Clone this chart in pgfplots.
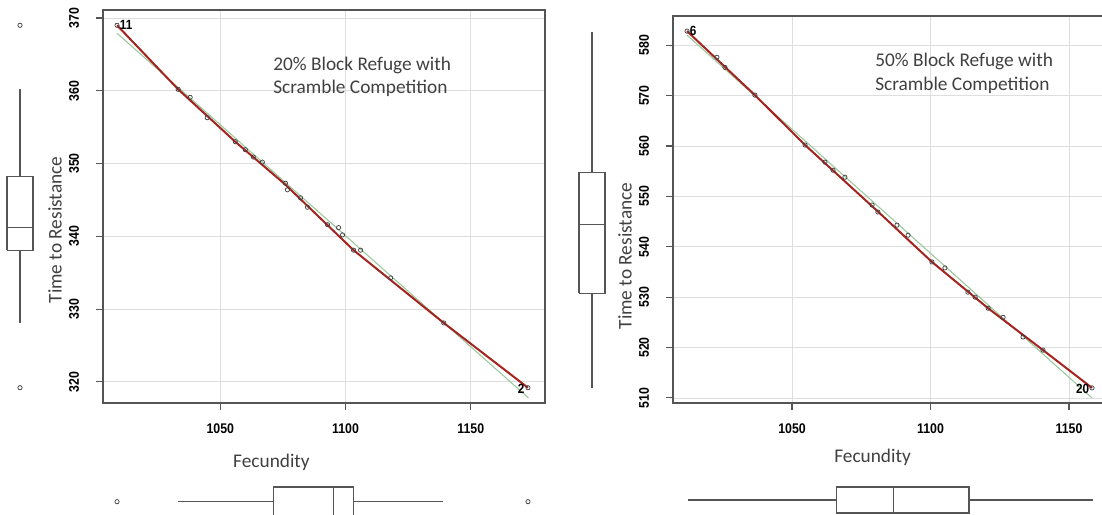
\documentclass[border=0pt]{standalone}
\usepackage{pgfplots}
\pgfplotsset{compat=1.18}
\usepgfplotslibrary{statistics}
\usepackage{fontspec}
\setmainfont{Carlito}
\newfontfamily\tickfont[FakeStretch=0.88]{Liberation Sans}

\definecolor{framec}{HTML}{555555}
\definecolor{gridc}{HTML}{DEDEDE}
\definecolor{fitred}{HTML}{A3231F}
\definecolor{fitgreen}{HTML}{9CC89C}
\definecolor{ptc}{HTML}{404040}

\pgfplotsset{
  scat/.style={
    scale only axis, anchor=south west,
    axis line style={framec, line width=1.1pt},
    grid=major, grid style={gridc, line width=0.6pt},
    tick align=outside, major tick length=5pt,
    tick style={framec, line width=0.8pt},
    xtick pos=bottom, ytick pos=left,
    xtick={1050,1100,1150},
    ticklabel style={font=\tickfont\bfseries\fontsize{10.5}{12}\selectfont},
    yticklabel style={rotate=90, anchor=south},
    xticklabel shift=7pt, yticklabel shift=9.5pt,
    /pgf/number format/assume math mode=true,
    /pgf/number format/1000 sep={},
  },
  boxax/.style={scale only axis, anchor=south west, hide axis, clip=false},
  pts/.style={only marks, mark=o, mark size=1.6pt, ptc, mark options={line width=0.55pt}},
  bx/.style={framec, line width=0.8pt},
}
\tikzset{
  idlab/.style={font=\tickfont\bfseries\fontsize{10}{12}\selectfont, inner sep=0.5pt},
  lab/.style={font=\fontsize{14.5}{17.5}\selectfont, color=black!75},
}

\begin{document}
\begin{tikzpicture}
\useasboundingbox (0,0) rectangle (826.5pt,385.5pt);

% ---------- left panel: 20% block refuge ----------
\begin{axis}[scat, at={(77.25pt,83.25pt)}, width=331.5pt, height=294.75pt,
  xmin=1003.2, xmax=1179.6, ymin=317.1, ymax=371.1, ytick={320,330,...,370}]
\addplot[fitgreen, line width=0.8pt] coordinates {(1008.8,367.9) (1173,317.8)};
\addplot[fitred, line width=1.5pt] coordinates {
  (1008.8,369.0) (1033.2,360.2) (1056.0,353.0) (1076.0,347.1)
  (1103.2,338.1) (1139.2,328.1) (1172.8,319.2)};
\addplot[pts] coordinates {
  (1008.8,369.0) (1033.2,360.2) (1038.0,359.1) (1044.8,356.3) (1056.0,353.0)
  (1060.0,351.9) (1063.2,350.9) (1066.8,350.2) (1076.0,347.3) (1076.8,346.4)
  (1082.0,345.3) (1084.8,344.0) (1092.8,341.6) (1097.2,341.2) (1098.8,340.2)
  (1103.2,338.1) (1106.0,338.1) (1118.0,334.3) (1139.2,328.1) (1172.8,319.2)};
\node[idlab, anchor=west, xshift=1.5pt] at (axis cs:1008.8,369.0) {11};
\node[idlab, anchor=east, xshift=-2pt, yshift=-1pt] at (axis cs:1172.8,319.2) {2};
\end{axis}

% vertical boxplot of time to resistance (x in px, 0..40)
\begin{axis}[boxax, at={(0pt,83.25pt)}, width=30pt, height=294.75pt,
  xmin=0, xmax=40, ymin=317.1, ymax=371.1]
\addplot[bx] coordinates {(7,338.1) (33,338.1) (33,348.2) (7,348.2) (7,338.1)};
\addplot[bx] coordinates {(7,341.2) (33,341.2)};
\addplot[bx] coordinates {(20,348.2) (20,360.2)};
\addplot[bx] coordinates {(20,338.1) (20,328.1)};
\addplot[pts] coordinates {(20,369.0) (20,319.2)};
\end{axis}

\begin{axis}[boxax, at={(77.25pt,0pt)}, width=331.5pt, height=33pt,
  xmin=1003.2, xmax=1179.6, ymin=0, ymax=44]
\addplot[bx, boxplot prepared={draw direction=x, draw position=12.3, box extend=29.4,
  whisker extend=0, lower whisker=1033.2, lower quartile=1071.2, median=1095.2,
  upper quartile=1103.2, upper whisker=1138.8}] coordinates {};
\addplot[pts] coordinates {(1008.8,12.3) (1172.8,12.3)};
\end{axis}

\node[lab] at (203.6pt,39pt) {Fecundity};
\node[lab, rotate=90] at (41.25pt,213pt) {Time to Resistance};
\node[lab, anchor=west, align=left, inner sep=0pt]
  at (204.75pt,327.75pt) {20\% Block Refuge with\\Scramble Competition};

% ---------- right panel: 50% block refuge ----------
\begin{axis}[scat, at={(504.75pt,83.25pt)}, width=322.5pt, height=290.25pt,
  xmin=1007.04, xmax=1162.27, ymin=509.0, ymax=585.8, ytick={510,520,...,580}]
\addplot[fitgreen, line width=0.8pt] coordinates {(1012.1,582.0) (1158.3,510.0)};
\addplot[fitred, line width=1.5pt] coordinates {
  (1012.1,582.8) (1036.6,570.1) (1054.7,560.2) (1081.0,547.0)
  (1100.5,537.0) (1120.8,527.8) (1140.6,519.5) (1158.3,512.0)};
\addplot[pts] coordinates {
  (1012.1,582.8) (1022.9,577.6) (1025.8,575.6) (1036.6,570.1) (1054.7,560.2)
  (1061.9,556.8) (1064.8,555.2) (1069.1,553.8) (1078.9,548.3) (1081.0,546.9)
  (1087.9,544.3) (1091.9,542.3) (1100.5,537.0) (1105.2,535.8) (1113.5,531.0)
  (1116.1,530.0) (1120.8,527.8) (1126.2,526.0) (1133.4,522.1) (1140.6,519.5)
  (1158.3,512.0)};
\node[idlab, anchor=west, xshift=1.5pt] at (axis cs:1012.1,582.8) {6};
\node[idlab, anchor=east, xshift=-1.5pt, yshift=-1pt] at (axis cs:1158.3,512.0) {20};
\end{axis}

% vertical boxplot (x in px, 560..620)
\begin{axis}[boxax, at={(420pt,83.25pt)}, width=45pt, height=290.25pt,
  xmin=560, xmax=620, ymin=509.0, ymax=585.8]
\addplot[bx] coordinates {(579,530.8) (605,530.8) (605,554.8) (579,554.8) (579,530.8)};
\addplot[bx] coordinates {(579,544.5) (605,544.5)};
\addplot[bx] coordinates {(592,554.8) (592,582.6)};
\addplot[bx] coordinates {(592,530.8) (592,512.0)};
\end{axis}

\begin{axis}[boxax, at={(504.75pt,0pt)}, width=322.5pt, height=33pt,
  xmin=1007.04, xmax=1162.27, ymin=0, ymax=44]
\addplot[bx, boxplot prepared={draw direction=x, draw position=14, box extend=26,
  whisker extend=0, lower whisker=1012.5, lower quartile=1065.9, median=1086.5,
  upper quartile=1113.9, upper whisker=1158.7}] coordinates {};
\end{axis}

\node[lab] at (654.4pt,42.75pt) {Fecundity};
\node[lab, rotate=90] at (468.75pt,193.5pt) {Time to Resistance};
\node[lab, anchor=west, align=left, inner sep=0pt]
  at (656.25pt,330.4pt) {50\% Block Refuge with\\Scramble Competition};
\end{tikzpicture}
\end{document}
